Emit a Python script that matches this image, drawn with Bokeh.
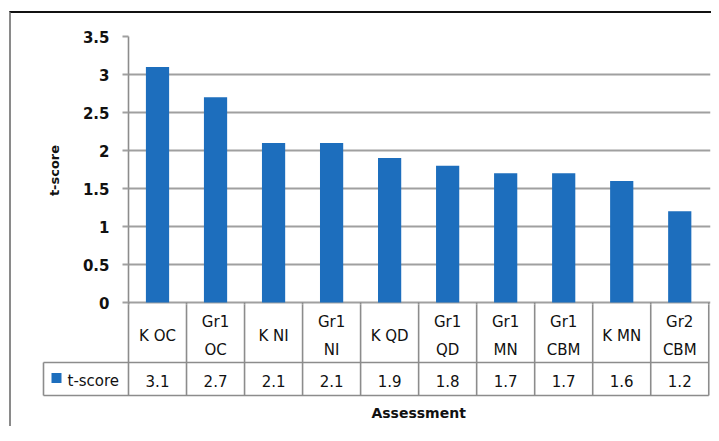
from bokeh.plotting import figure
from bokeh.models import Range1d, FixedTicker, ColumnDataSource
from bokeh.layouts import column
from bokeh.embed import file_html
from bokeh.resources import INLINE
from bokeh.core.properties import value

categories = ["K OC", "Gr1\nOC", "K NI", "Gr1\nNI", "K QD", "Gr1\nQD", "Gr1\nMN", "Gr1\nCBM", "K MN", "Gr2\nCBM"]
tscore = [3.1, 2.7, 2.1, 2.1, 1.9, 1.8, 1.7, 1.7, 1.6, 1.2]
yticks = [0, 0.5, 1, 1.5, 2, 2.5, 3, 3.5]
series_name = "t-score"
x_title = "Assessment"
y_title = "t-score"

FONT = "DejaVu Sans"
GRID = "#a0a0a0"
TABLE = "#8c8c8c"
BAR = "#1d6ebd"
TXT = "#111111"

n = len(categories)
xs = [i + 1 for i in range(n)]
ppu = 58.03          # pixels per category
ppy = 76.0           # pixels per t-score unit
ybot = -2 / ppy
xr_right = n + 0.53
OVER = 12            # lower figure overlaps the upper figure's bottom border

# ---------------- upper figure: bars and y axis ----------------
p = figure(width=700, height=291 + OVER, x_range=Range1d(0.5, xr_right), y_range=Range1d(ybot, 3.5),
           output_backend="svg", toolbar_location=None,
           min_border_left=117, min_border_right=1, min_border_top=23, min_border_bottom=OVER)
p.frame_align = False
p.outline_line_color = None
p.xaxis.visible = False
p.xgrid.visible = False
p.ygrid.ticker = FixedTicker(ticks=yticks)
p.ygrid.grid_line_color = GRID
p.ygrid.grid_line_width = 1.8

p.yaxis.ticker = FixedTicker(ticks=yticks)
p.yaxis.axis_line_color = TABLE
p.yaxis.axis_line_width = 1.6
p.yaxis.major_tick_out = 6
p.yaxis.major_tick_in = 0
p.yaxis.minor_tick_line_color = None
p.yaxis.major_tick_line_color = GRID
p.yaxis.major_tick_line_width = 1.8
p.yaxis.major_label_text_font = FONT
p.yaxis.major_label_text_font_size = "15px"
p.yaxis.major_label_text_font_style = "bold"
p.yaxis.major_label_text_color = TXT
p.yaxis.major_label_standoff = 13
p.yaxis.axis_label = y_title
p.yaxis.axis_label_text_font = FONT
p.yaxis.axis_label_text_font_size = "13px"
p.yaxis.axis_label_text_font_style = "bold"
p.yaxis.axis_label_text_color = TXT
p.yaxis.axis_label_standoff = 18

src = ColumnDataSource(dict(x=xs, top=tscore, cat=categories, v=["%.1f" % t for t in tscore]))
p.vbar(x="x", top="top", bottom=0, width=0.4, source=src, fill_color=BAR, line_color=None)

sep_x = [i + 0.5 for i in range(n + 1)]
p.segment(x0=sep_x, y0=[0] * len(sep_x), x1=sep_x, y1=[ybot - 0.1] * len(sep_x),
          line_color=TABLE, line_width=1.6)

# ---------------- lower figure: data table, legend key, x title ----------------
# y measured downward in pixels from the top of this figure
xl = 0.5 - 87 / ppu
q = figure(width=700, height=122, x_range=Range1d(xl, xr_right), y_range=Range1d(122, 0),
           output_backend="svg", toolbar_location=None,
           min_border_left=30, min_border_right=1, min_border_top=0, min_border_bottom=0,
           styles={"margin-top": "-%dpx" % OVER})
q.frame_align = False
q.outline_line_color = None
q.border_fill_color = None
q.background_fill_color = None
q.axis.visible = False
q.grid.visible = False

r1, r2 = 58, 91
cell_left = 0.5 - 85 / ppu
q.segment(x0=[cell_left, cell_left], y0=[r1, r2], x1=[n + 0.5, n + 0.5], y1=[r1, r2],
          line_color=TABLE, line_width=1.6)
q.segment(x0=[cell_left], y0=[r1], x1=[cell_left], y1=[r2], line_color=TABLE, line_width=1.6)
q.segment(x0=sep_x, y0=[-1] * len(sep_x), x1=sep_x, y1=[r2] * len(sep_x), line_color=TABLE, line_width=1.6)

q.text(x="x", y=31.5, text="cat", source=src, text_align="center", text_baseline="middle",
       text_font=value(FONT), text_font_size="15px", text_color=TXT, text_line_height=1.55)
q.text(x="x", y=76.5, text="v", source=src, text_align="center", text_baseline="middle",
       text_font=value(FONT), text_font_size="15px", text_color=TXT)
q.scatter(x=[0.5 - 72 / ppu], y=[73.5], marker="square", size=10, fill_color=BAR, line_color=None)
q.text(x=[0.5 - 61 / ppu], y=[76.5], text=[series_name], text_align="left", text_baseline="middle",
       text_font=value(FONT), text_font_size="15px", text_color=TXT)
q.text(x=[(n + 1) / 2], y=[108], text=[x_title], text_align="center", text_baseline="middle",
       text_font=value(FONT), text_font_size="14px", text_font_style="bold", text_color=TXT)

layout = column(p, q, spacing=0,
                styles={"margin-top": "11px", "margin-left": "9px",
                        "border-top": "2px solid #111111", "border-left": "2px solid #8a8a8a"})
open("out.html", "w").write(file_html(layout, INLINE))
